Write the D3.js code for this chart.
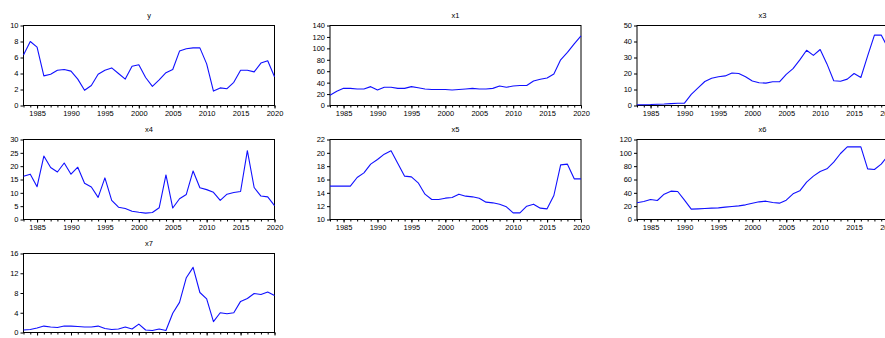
<!DOCTYPE html>
<html><head><meta charset="utf-8">
<script src="https://cdn.jsdelivr.net/npm/d3@7/dist/d3.min.js"></script>
<style>
html,body{margin:0;padding:0;background:#fff;overflow:hidden}
svg{display:block}
text{font-family:"Liberation Sans",Arial,sans-serif;}
</style></head><body>
<svg id="c" width="885" height="338"></svg>
<script>
const years = [1983,1984,1985,1986,1987,1988,1989,1990,1991,1992,1993,1994,1995,1996,1997,1998,1999,2000,2001,2002,2003,2004,2005,2006,2007,2008,2009,2010,2011,2012,2013,2014,2015,2016,2017,2018,2019,2020];
const majorYears = [1985,1990,1995,2000,2005,2010,2015,2020];

const yVals  = [6.3,8.0,7.3,3.7,3.9,4.4,4.5,4.3,3.3,1.9,2.5,3.9,4.4,4.7,4.0,3.3,4.9,5.1,3.5,2.4,3.2,4.1,4.5,6.8,7.1,7.2,7.2,5.2,1.8,2.2,2.1,2.9,4.4,4.4,4.2,5.3,5.6,3.6];
const x1Vals = [18,25,30,30,29,29,33,27,32,32,30,30,33,31,29,28,28,28,27,28,29,30,29,29,30,34,32,34,35,35,43,46,48,55,80,93,108,122];
const x3Vals = [0.5,0.5,0.6,0.8,0.9,1.2,1.4,1.5,7,11,15,17,18,18.5,20.3,20,18,15.3,14.2,14,14.8,14.8,19.5,23,28.5,34.5,31.3,35,26,15.5,15.2,16.5,20,17.5,31,44,44,36];
const x4Vals = [16.2,17,12.3,23.8,19.5,17.8,21.2,17,19.6,13.6,12.2,8.3,15.6,7.2,4.6,4.1,3.1,2.7,2.4,2.6,4.4,16.7,4.3,7.8,9.4,18.2,11.9,11.2,10.2,7.2,9.5,10.1,10.5,25.8,12,8.8,8.5,5.2];
const x5Vals = [15,15,15,15,16.3,17,18.3,19,19.8,20.3,18.4,16.5,16.4,15.5,13.8,13.0,13.0,13.2,13.3,13.8,13.5,13.4,13.2,12.6,12.5,12.3,11.9,11.0,11.0,12.0,12.3,11.7,11.6,13.6,18.2,18.3,16.1,16.1];
const x6Vals = [25,27,30,28.5,38,42.5,42,29,15.5,16,16.5,17,17.5,18.5,19.5,20.5,22,24.5,26.5,27.5,25.5,24.5,29,38.5,43,56,65,72,76,86,99,109,109,109,76,75,83,96];
const x7Vals = [0.5,0.6,0.9,1.3,1.1,1.0,1.3,1.3,1.2,1.1,1.1,1.3,0.8,0.6,0.7,1.1,0.7,1.7,0.5,0.4,0.7,0.4,3.9,6.1,11.1,13.2,8.1,6.8,2.2,4.0,3.8,4.0,6.3,6.9,7.9,7.7,8.2,7.5];

const yTicksY  = [0,2,4,6,8,10];
const yTicksX1 = [0,20,40,60,80,100,120,140];
const yTicksX3 = [0,10,20,30,40,50];
const yTicksX4 = [0,5,10,15,20,25,30];
const yTicksX5 = [10,12,14,16,18,20,22];
const yTicksX6 = [0,20,40,60,80,100,120];
const yTicksX7 = [0,4,8,12,16];

const panels = [
  {name:"y",  vals:yVals,  ticks:yTicksY,  col:0,row:0},
  {name:"x1", vals:x1Vals, ticks:yTicksX1, col:1,row:0},
  {name:"x3", vals:x3Vals, ticks:yTicksX3, col:2,row:0},
  {name:"x4", vals:x4Vals, ticks:yTicksX4, col:0,row:1},
  {name:"x5", vals:x5Vals, ticks:yTicksX5, col:1,row:1},
  {name:"x6", vals:x6Vals, ticks:yTicksX6, col:2,row:1},
  {name:"x7", vals:x7Vals, ticks:yTicksX7, col:0,row:2}
];

const colLeft = [23.5, 330, 637];
const plotW = 251;
const rowTop = [25.5, 139.5, 253.5];
const plotH = [80, 80, 79];
const lineColor = "#1010ff";

const svg = d3.select("#c");

panels.forEach(p => {
  const x0 = colLeft[p.col], y0 = rowTop[p.row], h = plotH[p.row];
  const g = svg.append("g");
  const xs = d3.scaleLinear().domain([years[0], years[years.length-1]]).range([x0, x0+plotW]);
  const ys = d3.scaleLinear().domain([p.ticks[0], p.ticks[p.ticks.length-1]]).range([y0+h, y0]);

  g.append("rect").attr("x",x0).attr("y",y0).attr("width",plotW).attr("height",h)
    .attr("fill","none").attr("stroke","#000").attr("stroke-width",1);

  const ya = d3.axisLeft(ys).tickValues(p.ticks).tickSize(3).tickPadding(2).tickFormat(d3.format("d"));
  const yag = g.append("g").attr("transform",`translate(${x0},0)`).call(ya);
  yag.select(".domain").remove();
  yag.selectAll("text").attr("font-size","7.5px").attr("fill","#000").style("font-family","'Liberation Sans',Arial,sans-serif");
  yag.selectAll("line").attr("stroke","#000");

  const xmin = d3.axisBottom(xs).tickValues(years).tickSize(2).tickFormat("");
  const xmg = g.append("g").attr("transform",`translate(0,${y0+h})`).call(xmin);
  xmg.select(".domain").remove();
  xmg.selectAll("line").attr("stroke","#000");

  const xmaj = d3.axisBottom(xs).tickValues(majorYears).tickSize(3).tickPadding(2).tickFormat(d3.format("d"));
  const xag = g.append("g").attr("transform",`translate(0,${y0+h})`).call(xmaj);
  xag.select(".domain").remove();
  xag.selectAll("line").attr("stroke","#000");
  xag.selectAll("text").attr("font-size","7.5px").attr("fill","#000").style("font-family","'Liberation Sans',Arial,sans-serif");

  const line = d3.line().x((d,i)=>xs(years[i])).y(d=>ys(d));
  g.append("path").datum(p.vals).attr("d",line).attr("fill","none")
    .attr("stroke",lineColor).attr("stroke-width",1.1).attr("stroke-linejoin","round");

  g.append("text").attr("x", x0+plotW/2).attr("y", y0-8).attr("text-anchor","middle")
    .attr("font-size","7.5px").attr("fill","#000").text(p.name);
});
</script>
</body></html>
